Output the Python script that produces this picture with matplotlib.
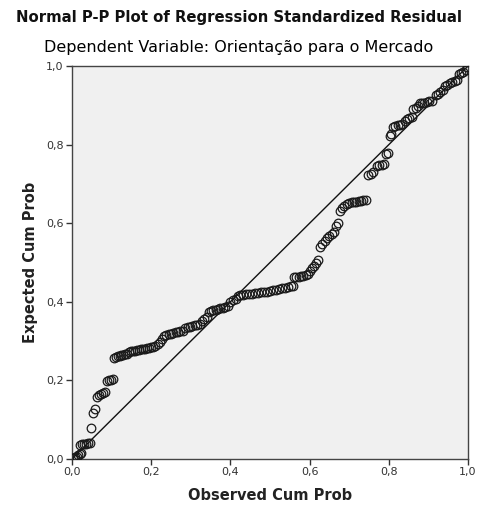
import matplotlib.pyplot as plt
import numpy as np

# observed cumulative probability (x) and expected cumulative probability (y)
observed = [
    0.003, 0.008, 0.012, 0.016, 0.020, 0.024,
    0.020, 0.025, 0.030, 0.035, 0.040, 0.045,
    0.048,
    0.053, 0.058,
    0.063, 0.068, 0.072, 0.078, 0.084,
    0.088, 0.093, 0.098, 0.103,
    0.105, 0.110, 0.115, 0.120, 0.125, 0.130, 0.135, 0.140,
    0.145, 0.150, 0.155, 0.160, 0.165, 0.170, 0.175, 0.180, 0.185, 0.190, 0.195, 0.200, 0.205, 0.210,
    0.216, 0.222, 0.228,
    0.232, 0.238, 0.244, 0.250, 0.256, 0.262, 0.268, 0.274, 0.280,
    0.286, 0.292, 0.298, 0.304, 0.310, 0.316, 0.322,
    0.328, 0.334, 0.340,
    0.345, 0.351, 0.357, 0.363, 0.369, 0.375, 0.381, 0.387, 0.393,
    0.400, 0.407, 0.413,
    0.418, 0.425, 0.432, 0.440, 0.447, 0.455, 0.462, 0.470, 0.477, 0.485,
    0.492, 0.500, 0.507, 0.515, 0.522, 0.530, 0.537, 0.545, 0.552, 0.558,
    0.560, 0.566, 0.572, 0.578, 0.584, 0.590, 0.596,
    0.600, 0.606, 0.611, 0.616, 0.620,
    0.626, 0.632, 0.638, 0.644, 0.650, 0.656, 0.662,
    0.666, 0.672,
    0.676, 0.682, 0.688, 0.694,
    0.700, 0.706, 0.712, 0.718, 0.724, 0.730, 0.736, 0.742,
    0.748, 0.754, 0.760,
    0.770, 0.776, 0.782, 0.788,
    0.794, 0.799,
    0.803, 0.806,
    0.810, 0.816, 0.822, 0.828, 0.834,
    0.840, 0.846, 0.852, 0.858,
    0.862, 0.868, 0.874,
    0.878, 0.884, 0.890, 0.896, 0.902, 0.908,
    0.918, 0.924, 0.930, 0.936,
    0.942, 0.948, 0.954, 0.960, 0.966, 0.972,
    0.976, 0.982, 0.988, 0.994,
    0.998,
]
expected = [
    0.002, 0.004, 0.006, 0.009, 0.012, 0.014,
    0.036, 0.037, 0.038, 0.039, 0.040, 0.041,
    0.079,
    0.117, 0.127,
    0.158, 0.163, 0.165, 0.168, 0.170,
    0.198, 0.200, 0.202, 0.204,
    0.258, 0.260, 0.262, 0.263, 0.264, 0.265, 0.267, 0.268,
    0.272, 0.274, 0.275, 0.276, 0.277, 0.278, 0.279, 0.280, 0.281, 0.282, 0.283, 0.284, 0.286, 0.288,
    0.293, 0.298, 0.305,
    0.312, 0.315, 0.317, 0.319, 0.321, 0.323, 0.324, 0.325, 0.327,
    0.333, 0.335, 0.337, 0.338, 0.340, 0.342, 0.344,
    0.350, 0.356, 0.362,
    0.374, 0.376, 0.378, 0.380, 0.382, 0.383, 0.385, 0.387, 0.389,
    0.400, 0.404, 0.408,
    0.415, 0.417, 0.418, 0.419, 0.420, 0.421, 0.422, 0.423, 0.424, 0.425,
    0.426, 0.428, 0.429, 0.431, 0.433, 0.434, 0.436, 0.438, 0.439, 0.440,
    0.462, 0.463, 0.464, 0.465, 0.466, 0.467, 0.470,
    0.478, 0.485, 0.492, 0.500, 0.506,
    0.540, 0.548, 0.555, 0.562, 0.568, 0.572, 0.577,
    0.593, 0.600,
    0.630, 0.638, 0.644, 0.650,
    0.652, 0.653, 0.654, 0.655, 0.656, 0.657, 0.658, 0.659,
    0.722, 0.726, 0.730,
    0.745, 0.747, 0.749, 0.751,
    0.775, 0.780,
    0.822, 0.828,
    0.845, 0.847, 0.849, 0.851, 0.853,
    0.860, 0.864, 0.868, 0.871,
    0.890, 0.894, 0.898,
    0.905, 0.906, 0.907, 0.909, 0.910, 0.912,
    0.926, 0.930, 0.934, 0.938,
    0.950, 0.953, 0.956, 0.959, 0.962, 0.965,
    0.980, 0.983, 0.986, 0.989,
    0.998,
]
ticks = [0.0, 0.2, 0.4, 0.6, 0.8, 1.0]
tick_labels = ["0,0", "0,2", "0,4", "0,6", "0,8", "1,0"]

fig = plt.figure(figsize=(4.78, 5.07), dpi=100)
ax = fig.add_axes([0.1506, 0.0947, 0.8285, 0.775])
ax.set_facecolor("#f0f0f0")

ax.plot([0, 1], [0, 1], color="#111111", lw=1.0, zorder=2)
ax.plot(observed, expected, linestyle="none", marker="o", markersize=6.2,
        markerfacecolor="none", markeredgecolor="#1a1a1a", markeredgewidth=0.9, zorder=3)

ax.set_xlim(0, 1)
ax.set_ylim(0, 1)
ax.set_xticks(ticks)
ax.set_xticklabels(tick_labels)
ax.set_yticks(ticks)
ax.set_yticklabels(tick_labels)
ax.tick_params(direction="out", length=4, width=1, colors="#333333", labelsize=8, pad=2)
for s in ax.spines.values():
    s.set_color("#444444")
    s.set_linewidth(1.0)

ax.set_xlabel("Observed Cum Prob", fontsize=10.5, fontweight="bold", color="#222222", labelpad=8)
ax.set_ylabel("Expected Cum Prob", fontsize=10.5, fontweight="bold", color="#222222", labelpad=6)

fig.text(0.5, 0.966, "Normal P-P Plot of Regression Standardized Residual",
         ha="center", va="center", fontsize=10.7, fontweight="bold", color="#111111")
fig.text(0.5, 0.907, "Dependent Variable: Orientação para o Mercado",
         ha="center", va="center", fontsize=11.5, color="#000000")

fig.savefig("out.png", dpi=100)
